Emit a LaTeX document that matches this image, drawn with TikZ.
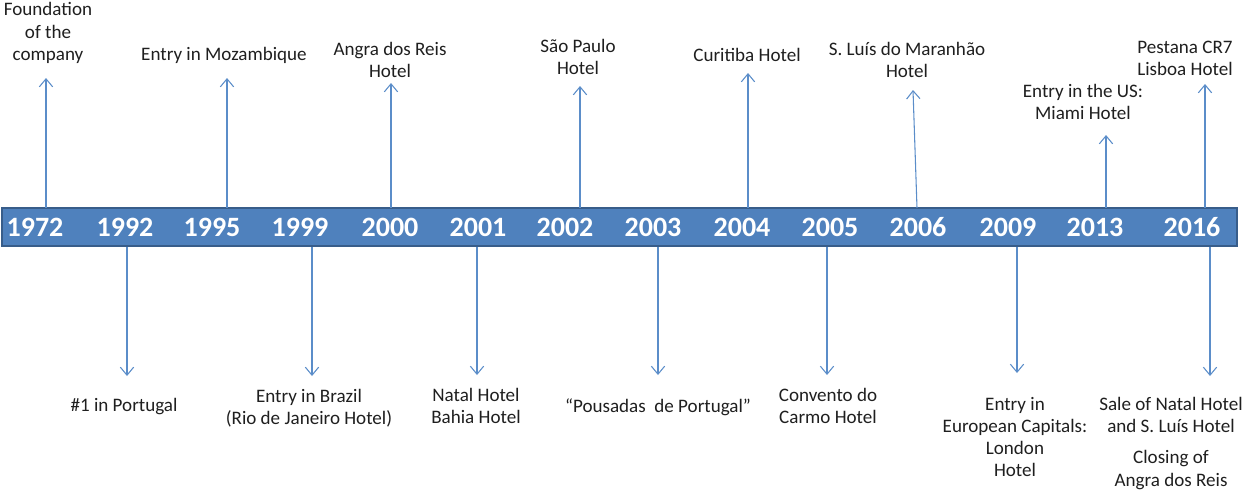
\documentclass[tikz,border=0pt]{standalone}
\usepackage{fontspec}
\setmainfont[Ligatures=TeX]{Carlito}
\usetikzlibrary{arrows.meta}
\definecolor{barfill}{HTML}{4F81BD}
\definecolor{barline}{HTML}{385D8A}
\definecolor{arr}{HTML}{5B8DC9}
\definecolor{txt}{HTML}{1F1F1F}
\begin{document}
\begin{tikzpicture}[x=0.75pt,y=-0.75pt,
  yearlbl/.style={font=\fontsize{21}{24}\selectfont\bfseries, text=white, inner sep=0pt},
  evt/.style={font=\fontsize{14.3}{16.6}\selectfont, text=txt, align=center, inner sep=0pt},
  conn/.style={draw=arr, line width=0.8pt, -{Straight Barb[length=6pt,width=10pt,line width=0.8pt]}},
  barbox/.style={draw=barline, fill=barfill, line width=2pt}
]
\useasboundingbox (0,0) rectangle (1246,494);
% bar
\draw[barbox] (2,208) rectangle (1237,246);
% years
\foreach \yr/\xx in {1972/35,1992/125,1995/212,1999/300,2000/390,2001/478,2002/565,2003/653,2004/742,2005/830,2006/918,2009/1008,2013/1095,2016/1192}
  \node[yearlbl] (y\yr) at (\xx,227) {\yr};
% up events
\node[evt] (u1972) at (48,33) {Foundation\\of the\\company};
\node[evt] (u1995) at (224,55) {Entry in Mozambique};
\node[evt] (u2000) at (390,60) {Angra dos Reis\\Hotel};
\node[evt] (u2002) at (578,57) {São Paulo\\Hotel};
\node[evt] (u2004) at (747,55) {Curitiba Hotel};
\node[evt] (u2006) at (907,60) {S. Luís do Maranhão\\Hotel};
\node[evt] (u2013) at (1083,102) {Entry in the US:\\Miami Hotel};
\node[evt] (u2016) at (1185,58) {Pestana CR7\\Lisboa Hotel};
% down events
\node[evt] (d1992) at (124,407) {\#1 in Portugal};
\node[evt] (d1999) at (309,408) {Entry in Brazil\\(Rio de Janeiro Hotel)};
\node[evt] (d2001) at (476,406) {Natal Hotel\\Bahia Hotel};
\node[evt] (d2003) at (658,407) {“Pousadas\ \ de Portugal”};
\node[evt] (d2005) at (828,406) {Convento do\\Carmo Hotel};
\node[evt] (d2009) at (1015,437) {Entry in\\European Capitals:\\London\\Hotel};
\node[evt] (d2016a) at (1171,415) {Sale of Natal Hotel\\and S. Luís Hotel};
\node[evt] (d2016b) at (1171,470) {Closing of\\Angra dos Reis};
% connector end points
\coordinate (b1972) at (46,208);   \coordinate (t1972) at (46,78);
\coordinate (b1995) at (227,208);  \coordinate (t1995) at (227,78);
\coordinate (b2000) at (391,208);  \coordinate (t2000) at (391,83);
\coordinate (b2002) at (580,208);  \coordinate (t2002) at (580,86);
\coordinate (b2004) at (748,208);  \coordinate (t2004) at (748,73);
\coordinate (b2006) at (917,208);  \coordinate (t2006) at (913,90);
\coordinate (b2013) at (1106,208); \coordinate (t2013) at (1106,135);
\coordinate (b2016u) at (1205,208); \coordinate (t2016u) at (1205,84);
\coordinate (b1992) at (127,247);  \coordinate (t1992) at (127,376);
\coordinate (b1999) at (312,247);  \coordinate (t1999) at (312,376);
\coordinate (b2001) at (477,247);  \coordinate (t2001) at (477,375);
\coordinate (b2003) at (658,247);  \coordinate (t2003) at (658,375);
\coordinate (b2005) at (827,247);  \coordinate (t2005) at (827,375);
\coordinate (b2009) at (1017,247); \coordinate (t2009) at (1017,373);
\coordinate (b2016d) at (1210,247); \coordinate (t2016d) at (1210,376);
% connectors
\foreach \a/\b in {b1972/t1972,b1995/t1995,b2000/t2000,b2002/t2002,b2004/t2004,b2006/t2006,b2013/t2013,b2016u/t2016u,b1992/t1992,b1999/t1999,b2001/t2001,b2003/t2003,b2005/t2005,b2009/t2009,b2016d/t2016d}
  \draw[conn] (\a) -- (\b);
\end{tikzpicture}
\end{document}
